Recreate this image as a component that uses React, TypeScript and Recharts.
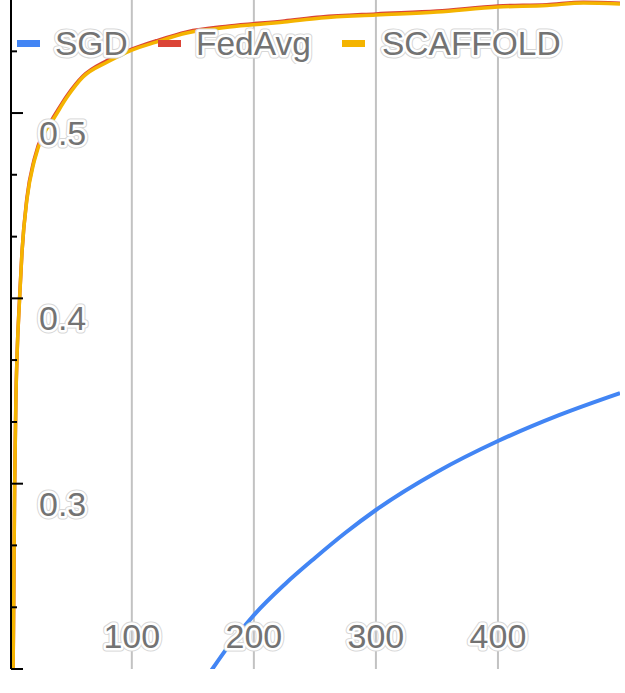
import React from 'react';
import { LineChart, Line, XAxis, YAxis, CartesianGrid, Legend } from 'recharts';

// communication rounds / accuracy for the plain SGD baseline
const sgdRounds = [1, 50, 100, 150, 166, 180, 200, 225, 250, 275, 300, 350, 400, 450, 500];
const sgdAcc = [0.08, 0.1, 0.13, 0.184, 0.2, 0.213, 0.2291, 0.2455, 0.2599, 0.2735, 0.2858, 0.3063, 0.323, 0.337, 0.3489];

// federated runs share the same round grid
const fedRounds = [1, 2, 3, 4, 5, 6, 8, 10, 14, 20, 28, 35, 47, 60, 80, 100, 120, 145, 180, 225, 255, 300, 350, 400, 440, 470, 500];
const fedAvgAcc = [0.1, 0.15, 0.22, 0.3, 0.346, 0.37, 0.4, 0.425, 0.454, 0.475, 0.49, 0.497, 0.5095, 0.52, 0.5285, 0.5345, 0.539, 0.5438, 0.547, 0.5497, 0.5518, 0.5535, 0.555, 0.5578, 0.5585, 0.5598, 0.5592];
const scaffoldAcc = [0.1, 0.15, 0.22, 0.3, 0.345, 0.37, 0.399, 0.425, 0.453, 0.474, 0.489, 0.496, 0.5086, 0.5194, 0.5275, 0.534, 0.5383, 0.5432, 0.5464, 0.5491, 0.5513, 0.5529, 0.5545, 0.5572, 0.558, 0.5594, 0.5588];

const xDomain = [1, 500];
const xTicks = [100, 200, 300, 400];
const yTicks = [0.2, 0.2333, 0.2667, 0.3, 0.3333, 0.3667, 0.4, 0.4333, 0.4667, 0.5, 0.5333];
const yLabels: Record<string, string> = { '0.3': '0.3', '0.4': '0.4', '0.5': '0.5' };

const series = [
  { name: 'SGD', color: '#4285f4', rounds: sgdRounds, values: sgdAcc, width: 4 },
  { name: 'FedAvg', color: '#db4437', rounds: fedRounds, values: fedAvgAcc, width: 3.5 },
  { name: 'SCAFFOLD', color: '#f4b400', rounds: fedRounds, values: scaffoldAcc, width: 3.5 },
];

const toPoints = (xs: number[], ys: number[]) => xs.map((x, i) => ({ x, v: ys[i] }));

const FONT = '"Liberation Sans", Arial, sans-serif';
const TEXT_GRAY = '#737373';

// gray text with a white halo so it stays readable over the grid and lines
const HaloText = ({ x, y, anchor = 'start', size = 34, children }: any) => (
  <g fontFamily={FONT} fontSize={size} textAnchor={anchor}>
    <text x={x} y={y} stroke="#d6d6d6" strokeWidth={7} strokeLinejoin="round" fill="none">
      {children}
    </text>
    <text x={x} y={y} stroke="#fff" strokeWidth={5} strokeLinejoin="round" paintOrder="stroke" fill={TEXT_GRAY}>
      {children}
    </text>
  </g>
);

// inward tick marks, long on tenths, short in between; labels sit just below their tick
const YTick = ({ y, payload, axisX }: any) => {
  const tenths = payload.value * 10;
  const major = Math.abs(tenths - Math.round(tenths)) < 0.001;
  const label = yLabels[(Math.round(tenths) / 10).toString()];
  return (
    <g>
      <line x1={axisX} x2={axisX + (major ? 12 : 6)} y1={y} y2={y} stroke="#000" strokeWidth={2} />
      {major && label ? (
        <HaloText x={axisX + 28} y={y + 32}>
          {label}
        </HaloText>
      ) : null}
    </g>
  );
};

const XTick = ({ x, y, payload }: any) => (
  <HaloText x={x} y={y - 21} anchor="middle">
    {payload.value}
  </HaloText>
);

const legendPos = [
  { swatch: 17, text: 55 },
  { swatch: 158, text: 196 },
  { swatch: 342, text: 382 },
];

const LegendContent = () => (
  <svg width={625} height={64} style={{ display: 'block' }}>
    {series.map((s, i) => (
      <g key={s.name}>
        <rect x={legendPos[i].swatch} y={40} width={23} height={7} fill={s.color} />
        <HaloText x={legendPos[i].text} y={55} size={33.5}>
          {s.name}
        </HaloText>
      </g>
    ))}
  </svg>
);

const PLOT_LEFT = 11;

// vertical grid lines only at the labelled rounds
const gridXs = ({ offset }: any) =>
  xTicks.map((t) => offset.left + ((t - xDomain[0]) / (xDomain[1] - xDomain[0])) * offset.width);

export default function App() {
  return (
    <div style={{ position: 'absolute', left: 0, top: 0, background: '#fff' }}>
      <LineChart width={625} height={693} margin={{ top: 0, right: 5, bottom: 0, left: PLOT_LEFT - 1 }}>
        <CartesianGrid horizontal={false} stroke="#c2c2c2" strokeWidth={2} verticalCoordinatesGenerator={gridXs} />
        <XAxis
          type="number"
          dataKey="x"
          domain={xDomain}
          ticks={xTicks}
          height={24}
          axisLine={false}
          tickLine={false}
          tickSize={0}
          tickMargin={0}
          tick={<XTick />}
          allowDataOverflow
        />
        {series.map((s) => (
          <Line
            key={s.name}
            name={s.name}
            data={toPoints(s.rounds, s.values)}
            dataKey="v"
            type="monotone"
            stroke={s.color}
            strokeWidth={s.width}
            dot={false}
            activeDot={false}
            isAnimationActive={false}
          />
        ))}
        <YAxis
          type="number"
          domain={[0.2, 0.561]}
          ticks={yTicks}
          width={1}
          tickSize={0}
          tickMargin={0}
          tickLine={false}
          axisLine={{ stroke: '#000', strokeWidth: 2 }}
          tick={<YTick axisX={PLOT_LEFT} />}
          interval={0}
          allowDataOverflow
        />
        <Legend
          layout="horizontal"
          verticalAlign="middle"
          align="center"
          content={<LegendContent />}
          wrapperStyle={{ top: 0, left: 0, width: 625, height: 64 }}
        />
      </LineChart>
    </div>
  );
}
